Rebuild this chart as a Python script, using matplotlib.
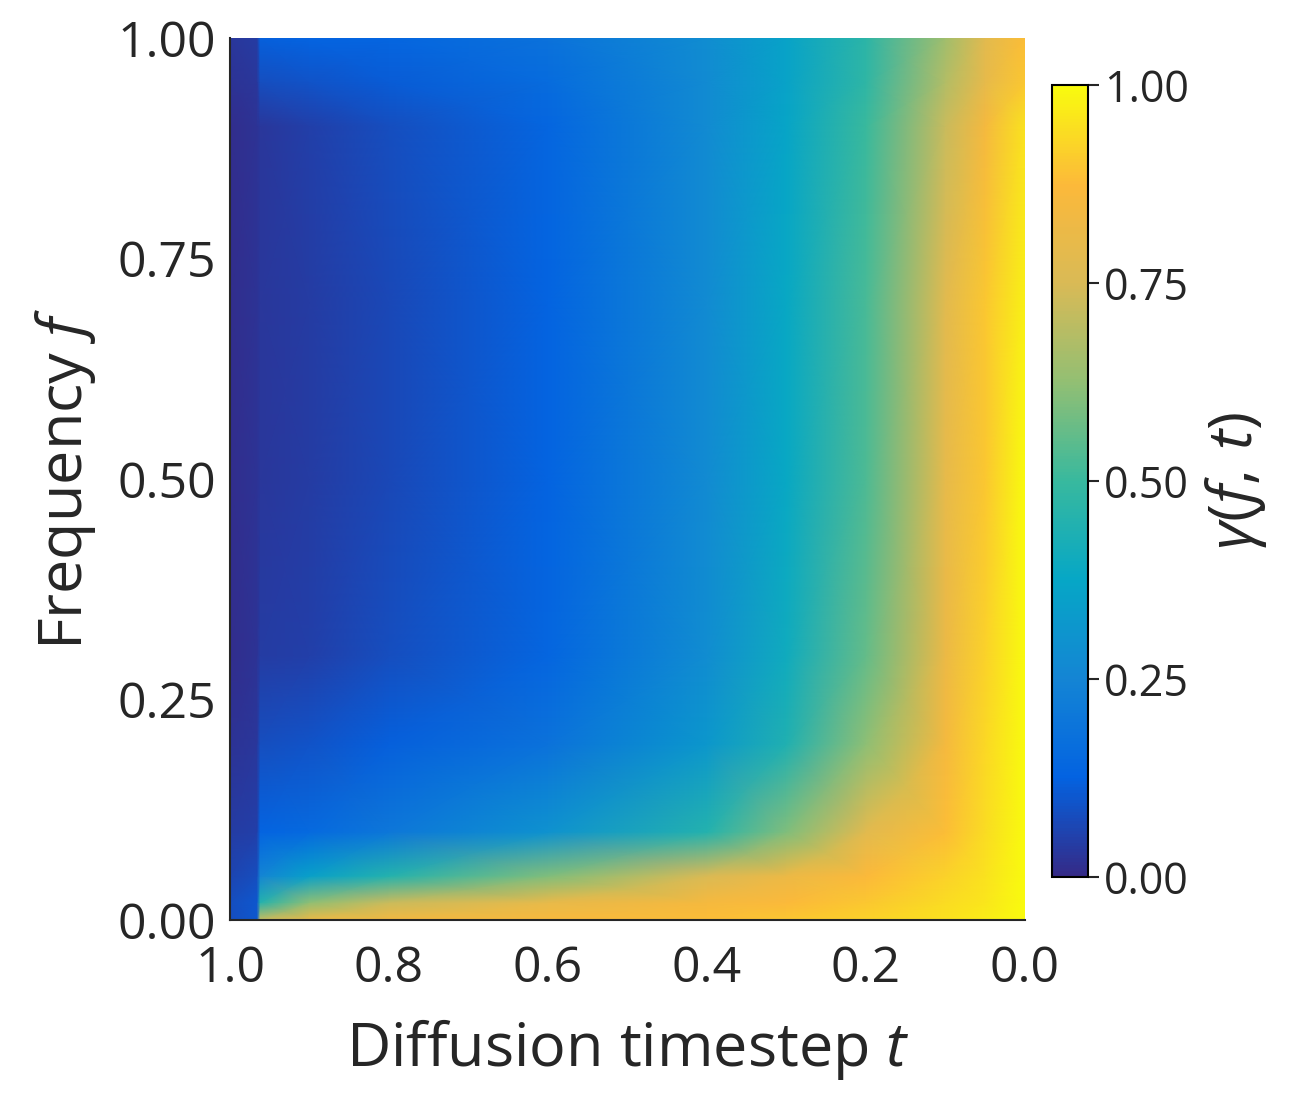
import numpy as np
import matplotlib.pyplot as plt
from matplotlib.colors import LinearSegmentedColormap

plt.rcParams['font.family'] = ['Open Sans', 'DejaVu Sans']
plt.rcParams['mathtext.fontset'] = 'custom'
plt.rcParams['mathtext.it'] = 'Open Sans:italic'
plt.rcParams['mathtext.rm'] = 'Open Sans'

# grid
t_vals = [1.0, 0.966, 0.962, 0.9, 0.8, 0.6, 0.4, 0.3, 0.2, 0.1, 0.05, 0.0]
f_vals = [0.0, 0.02, 0.05, 0.1, 0.2, 0.3, 0.5, 0.7, 0.9, 0.95, 1.0]
gamma = [
    [0.08, 0.10, 0.72, 0.82, 0.84, 0.86, 0.88, 0.90, 0.92, 0.95, 0.97, 1.00],
    [0.08, 0.10, 0.45, 0.62, 0.72, 0.80, 0.85, 0.87, 0.90, 0.94, 0.96, 1.00],
    [0.06, 0.08, 0.25, 0.35, 0.45, 0.60, 0.75, 0.82, 0.87, 0.92, 0.95, 1.00],
    [0.04, 0.05, 0.13, 0.15, 0.20, 0.30, 0.45, 0.60, 0.78, 0.88, 0.94, 1.00],
    [0.02, 0.03, 0.08, 0.09, 0.12, 0.18, 0.32, 0.44, 0.62, 0.85, 0.93, 1.00],
    [0.01, 0.02, 0.04, 0.05, 0.08, 0.14, 0.28, 0.40, 0.56, 0.82, 0.92, 1.00],
    [0.01, 0.02, 0.03, 0.04, 0.07, 0.13, 0.27, 0.38, 0.53, 0.80, 0.90, 1.00],
    [0.01, 0.02, 0.03, 0.04, 0.07, 0.13, 0.27, 0.38, 0.52, 0.78, 0.90, 0.98],
    [0.01, 0.02, 0.03, 0.05, 0.08, 0.14, 0.27, 0.37, 0.50, 0.72, 0.85, 0.95],
    [0.02, 0.03, 0.08, 0.09, 0.11, 0.16, 0.27, 0.36, 0.48, 0.68, 0.80, 0.90],
    [0.03, 0.04, 0.12, 0.13, 0.14, 0.18, 0.28, 0.36, 0.47, 0.65, 0.78, 0.88],
]

parula = LinearSegmentedColormap.from_list('parula', [
    '#352a87', '#0363e1', '#1485d4', '#06a7c6', '#38b99e',
    '#92bf73', '#d9ba56', '#fcb93a', '#f9fb0e'])

fig = plt.figure(figsize=(13.01, 11.02), dpi=100)
ax = fig.add_axes([230/1301, 1-920/1102, 795/1301, 882/1102])
T, F = np.meshgrid(t_vals, f_vals)
pm = ax.pcolormesh(T, F, np.array(gamma), cmap=parula, vmin=0, vmax=1,
                   shading='gouraud')
ax.set_xlim(1.0, 0.0)
ax.set_ylim(0, 1)
ax.set_xticks([1.0, 0.8, 0.6, 0.4, 0.2, 0.0])
ax.set_xticklabels(['1.0', '0.8', '0.6', '0.4', '0.2', '0.0'])
ax.set_yticks([0, 0.25, 0.5, 0.75, 1.0])
ax.set_yticklabels(['0.00', '0.25', '0.50', '0.75', '1.00'])
ax.tick_params(labelsize=36, colors='#262626', length=0, pad=10)
ax.tick_params(axis='x', pad=18)
for s in ['top', 'right']:
    ax.spines[s].set_visible(False)
for s in ['left', 'bottom']:
    ax.spines[s].set_color('#262626')
    ax.spines[s].set_linewidth(1.5)
ax.set_xlabel('Diffusion timestep $t$', fontsize=44, color='#262626', labelpad=16)
ax.set_ylabel('Frequency $f$', fontsize=44, color='#262626', labelpad=14)

cax = fig.add_axes([1052/1301, 1-877/1102, 36/1301, 792/1102])
cb = fig.colorbar(pm, cax=cax, ticks=[0, 0.25, 0.5, 0.75, 1.0])
cb.ax.set_yticklabels(['0.00', '0.25', '0.50', '0.75', '1.00'])
cb.ax.tick_params(labelsize=31, colors='#262626', length=8, width=1.5)
cb.outline.set_linewidth(1.5)
cb.set_label(r'$\gamma(f,\, t)$', fontsize=44, color='#262626', labelpad=10)

fig.savefig('out.png', dpi=100)
